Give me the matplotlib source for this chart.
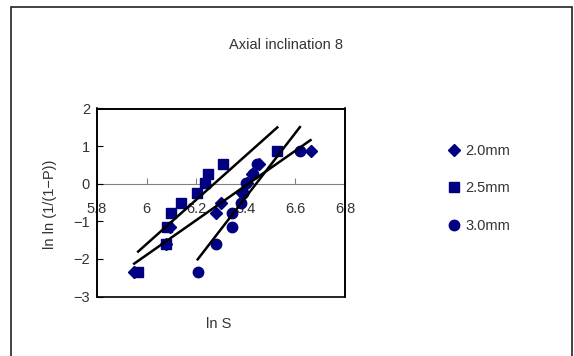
import numpy as np
import matplotlib.pyplot as plt
from matplotlib.patches import Rectangle

plt.rcParams['font.family'] = ['Liberation Sans', 'DejaVu Sans']

# ln ln(1/(1-P)) for the 10 ranks (same for all series)
lnlnP = [-2.35, -1.61, -1.14, -0.79, -0.50, -0.24, 0.01, 0.26, 0.53, 0.87]

# ln S values
lnS_20 = [5.950, 6.080, 6.094, 6.280, 6.298, 6.383, 6.403, 6.427, 6.452, 6.661]
lnS_25 = [5.966, 6.077, 6.081, 6.097, 6.138, 6.204, 6.237, 6.247, 6.309, 6.527]
lnS_30 = [6.206, 6.280, 6.345, 6.345, 6.379, 6.387, 6.400, 6.430, 6.446, 6.618]

labels = ['2.0mm', '2.5mm', '3.0mm']
markers = ['D', 's', 'o']
msizes = [6.3, 6.5, 7.5]
navy = '#000080'
txt = '#333333'

fig = plt.figure(figsize=(5.74, 3.56), dpi=100)
ax = fig.add_axes([97/574, 1 - 296.5/356, 248/574, 188/356])

# outer chart frame
fig.patches.append(Rectangle((11/574, -0.05), 561/574, 1.05 - 7/356,
                             transform=fig.transFigure, fill=False,
                             edgecolor='#222222', linewidth=1.2))

series = [lnS_20, lnS_25, lnS_30]
handles = []
for xs, lab, mk, ms in zip(series, labels, markers, msizes):
    h, = ax.plot(xs, lnlnP, linestyle='none', marker=mk, markersize=ms,
                 color=navy, label=lab, zorder=3)
    handles.append(h)

# linear trend lines over each series' range
for xs in series:
    k, b = np.polyfit(xs, lnlnP, 1)
    xx = np.array([min(xs), max(xs)])
    ax.plot(xx, k * xx + b, color='black', linewidth=1.8, zorder=4)

ax.set_xlim(5.8, 6.8)
ax.set_ylim(-3, 2)
ax.set_xticks([5.8, 6.0, 6.2, 6.4, 6.6, 6.8])
ax.set_xticklabels(['5.8', '6', '6.2', '6.4', '6.6', '6.8'])
ax.set_yticks([-3, -2, -1, 0, 1, 2])

# x axis crosses at y = 0 (grey line), box drawn separately
ax.spines['bottom'].set_position(('data', 0))
ax.spines['bottom'].set_color('#808080')
ax.spines['bottom'].set_zorder(1)
for s in ['left', 'right', 'top']:
    ax.spines[s].set_color('black')
    ax.spines[s].set_linewidth(1.2)
ax.add_patch(Rectangle((0, 0), 1, 1, transform=ax.transAxes, fill=False,
                       edgecolor='black', linewidth=1.2, zorder=5, clip_on=False))

ax.tick_params(axis='x', direction='in', length=4, pad=13, labelsize=10.5,
               labelcolor=txt, color='#808080')
ax.tick_params(axis='y', direction='in', length=4, pad=5, labelsize=10.5,
               labelcolor=txt, color='black')

fig.text(0.498, 0.874, 'Axial inclination 8', ha='center', va='center',
         fontsize=10.5, color=txt)
fig.text(219/574, 1 - 324/356, 'ln S', ha='center', va='center',
         fontsize=10.5, color=txt)
fig.text(50/574, 1 - 204/356, 'ln ln (1/(1\u2212P))', ha='center', va='center',
         rotation=90, fontsize=10.5, color=txt)

fig.legend(handles=handles, loc='upper left', bbox_to_anchor=(432/574, 1 - 131/356),
           frameon=False, fontsize=10.5, labelspacing=1.6, handletextpad=0.2,
           handlelength=1.2, labelcolor=txt)

fig.savefig('out.png', dpi=100)
